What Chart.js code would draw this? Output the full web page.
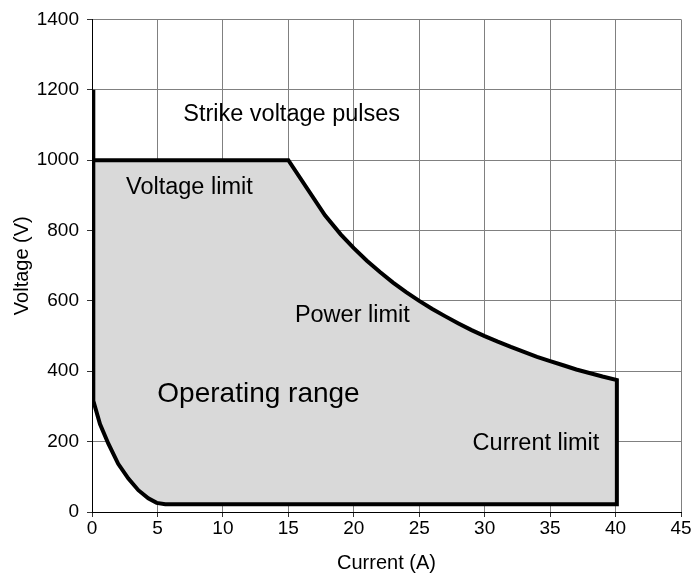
<!DOCTYPE html>
<html>
<head>
<meta charset="utf-8">
<script src="https://cdn.jsdelivr.net/npm/chart.js@4"></script>
<style>
    html, body { margin: 0; padding: 0; background: #fff; }
</style>
</head>
<body>
<canvas id="canvas_grafico" width="694" height="575"></canvas>
<script>
// contorno da área de operação (corrente em A, tensão em V)
const correnteA = [0.1, 0.1, 15, 17.8, 19, 20, 21, 22, 23, 24, 25, 26, 27, 28, 29, 30, 31, 32, 33, 34, 35, 36, 37, 38, 39, 40.1,
                   40.1, 5.6, 4.94, 4.3, 3.54, 2.78, 2.0, 1.25, 0.61, 0.1, 0.1];
const tensaoV = [1200, 1000, 1000, 843, 789, 750, 714, 682, 652, 625, 600, 577, 556, 536, 517, 500, 484, 469, 455, 441, 429, 417, 405, 395, 385, 375,
                 22, 22, 26, 39, 62, 95, 137, 194, 250, 316, 1000];

// textos dentro do gráfico
const rotulos = ['Strike voltage pulses', 'Voltage limit', 'Power limit', 'Operating range', 'Current limit'];
const rotulosX = [6.97, 2.6, 15.5, 4.99, 29.08];
const rotulosY = [1110, 903, 540, 313, 177];
const rotulosTamanho = [23.5, 23.5, 23.5, 28, 23.5];

const fonte = "'Liberation Sans', Arial, sans-serif";

const pontos = correnteA.map((x, i) => ({ x: x, y: tensaoV[i] }));

// desenha os textos nas coordenadas dos dados
const textosPlugin = {
    id: 'textos',
    afterDatasetsDraw(chart) {
        const ctx = chart.ctx;
        const xs = chart.scales.x;
        const ys = chart.scales.y;
        ctx.save();
        ctx.fillStyle = '#000';
        ctx.textAlign = 'left';
        ctx.textBaseline = 'alphabetic';
        rotulos.forEach((txt, i) => {
            ctx.font = rotulosTamanho[i] + 'px ' + fonte;
            ctx.fillText(txt, xs.getPixelForValue(rotulosX[i]), ys.getPixelForValue(rotulosY[i]));
        });
        ctx.restore();
    }
};

const ctx = document.getElementById('canvas_grafico').getContext('2d');
new Chart(ctx, {
    type: 'scatter',
    data: {
        datasets: [{
            data: pontos,
            showLine: true,
            pointRadius: 0,
            borderColor: '#000',
            borderWidth: 4,
            borderJoinStyle: 'miter',
            backgroundColor: '#d9d9d9',
            fill: 'shape',
            tension: 0
        }]
    },
    options: {
        responsive: false,
        animation: false,
        layout: {
            padding: { top: 14, right: 13, left: 0, bottom: 0 }
        },
        plugins: {
            legend: { display: false },
            tooltip: { enabled: false }
        },
        scales: {
            x: {
                type: 'linear',
                min: 0,
                max: 45,
                ticks: {
                    stepSize: 5,
                    color: '#000',
                    padding: 0,
                    maxRotation: 0,
                    font: { family: fonte, size: 19 }
                },
                grid: { color: '#808080', tickColor: '#333', tickLength: 5 },
                border: { color: '#000', width: 1 },
                title: {
                    display: true,
                    text: 'Current (A)',
                    color: '#000',
                    font: { family: fonte, size: 20 },
                    padding: { top: 0, bottom: 0 }
                },
                afterFit: function(scale) {
                    scale.height = 63;
                }
            },
            y: {
                type: 'linear',
                min: 0,
                max: 1400,
                ticks: {
                    stepSize: 200,
                    color: '#000',
                    padding: 8,
                    font: { family: fonte, size: 19 },
                    callback: function(value) {
                        return String(value); // sem separador de milhar
                    }
                },
                grid: { color: '#808080', tickColor: '#333', tickLength: 5 },
                border: { color: '#000', width: 1 },
                title: {
                    display: true,
                    text: 'Voltage (V)',
                    color: '#000',
                    font: { family: fonte, size: 20 },
                    padding: { top: 10, bottom: 0 }
                },
                afterFit: function(scale) {
                    scale.width = 92;
                }
            }
        }
    },
    plugins: [textosPlugin]
});
</script>
</body>
</html>
